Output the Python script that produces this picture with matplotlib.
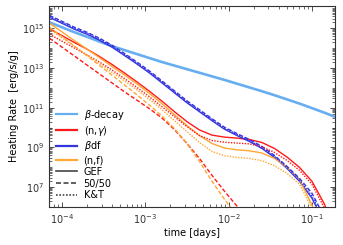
import matplotlib.pyplot as plt
import numpy as np
from matplotlib.lines import Line2D
from matplotlib.ticker import LogLocator, NullFormatter

# log10(time [days]) grid shared by all curves
log_t = [-4.15, -4.0, -3.85, -3.7, -3.55, -3.4, -3.25, -3.1, -2.95, -2.8, -2.65, -2.5,
         -2.35, -2.2, -2.05, -1.9, -1.75, -1.6, -1.45, -1.3, -1.15, -1.0, -0.85, -0.7]

# log10(heating rate [erg/s/g]) (nan = below the axis)
nan = np.nan
beta_decay = [15.30, 15.05, 14.80, 14.57, 14.33, 14.10, 13.90, 13.70, 13.50, 13.30, 13.12, 12.94,
              12.76, 12.58, 12.40, 12.21, 12.02, 11.83, 11.63, 11.42, 11.21, 10.98, 10.75, 10.50]

ng_gef = [14.98, 14.63, 14.28, 13.95, 13.58, 13.18, 12.75, 12.30, 11.83, 11.33, 10.80, 10.30,
          9.88, 9.62, 9.52, 9.47, 9.40, 9.25, 8.95, 8.52, 8.00, 7.30, 6.15, 4.60]
ng_5050 = [14.50, 14.05, 13.60, 13.15, 12.70, 12.25, 11.80, 11.38, 10.95, 10.48, 9.90, 9.20,
           8.45, 7.60, 6.80, 6.05, 5.30, 4.40, nan, nan, nan, nan, nan, nan]
ng_kt = [14.70, 14.35, 14.00, 13.66, 13.30, 12.90, 12.47, 12.02, 11.55, 11.05, 10.55, 10.05,
         9.60, 9.35, 9.26, 9.22, 9.18, 9.03, 8.75, 8.35, 7.85, 7.15, 5.95, 4.40]

bdf_gef = [15.55, 15.25, 14.95, 14.70, 14.40, 14.05, 13.63, 13.20, 12.75, 12.25, 11.75, 11.25,
           10.80, 10.35, 9.92, 9.60, 9.30, 8.95, 8.50, 7.95, 7.30, 6.45, 5.20, 4.00]
bdf_5050 = [15.65, 15.35, 15.05, 14.80, 14.50, 14.15, 13.73, 13.30, 12.85, 12.35, 11.85, 11.35,
            10.90, 10.45, 10.02, 9.70, 9.40, 9.05, 8.60, 8.05, 7.45, 6.70, 5.50, 4.30]
bdf_kt = [15.60, 15.30, 15.00, 14.75, 14.45, 14.10, 13.68, 13.25, 12.80, 12.30, 11.80, 11.30,
          10.85, 10.40, 9.97, 9.65, 9.35, 9.00, 8.55, 8.00, 7.37, 6.55, 5.35, 4.10]

nf_gef = [15.25, 14.82, 14.38, 13.95, 13.52, 13.08, 12.65, 12.20, 11.72, 11.20, 10.65, 10.10,
          9.60, 9.20, 8.97, 8.88, 8.83, 8.72, 8.45, 8.00, 7.40, 6.10, 4.60, nan]
nf_5050 = [15.05, 14.58, 14.10, 13.62, 13.13, 12.64, 12.15, 11.65, 11.13, 10.58, 9.95, 9.20,
           8.30, 7.30, 6.40, 5.55, 4.70, nan, nan, nan, nan, nan, nan, nan]
nf_kt = [14.95, 14.52, 14.08, 13.65, 13.22, 12.78, 12.35, 11.90, 11.42, 10.90, 10.35, 9.80,
         9.25, 8.80, 8.58, 8.50, 8.45, 8.33, 8.08, 7.70, 7.15, 5.95, 4.50, nan]

legend_labels = [r'$\beta$-decay', r'(n,$\gamma$)', r'$\beta$df', '(n,f)', 'GEF', '50/50', 'K&T']

c_beta = '#66aef0'
c_ng = '#ff1a1a'
c_bdf = '#3535e0'
c_nf = '#ffa733'
dashed = (0, (3, 1.5))
dotted = (0, (1, 1))

t = 10 ** np.array(log_t)

def h(vals):
    return 10 ** np.array(vals)

fig = plt.figure(figsize=(3.43, 2.45), dpi=100)
ax = fig.add_axes([0.143, 0.155, 0.834, 0.82])

ax.plot(t, h(beta_decay), color=c_beta, lw=1.9)
for vals, col in [(ng_gef, c_ng), (bdf_gef, c_bdf), (nf_gef, c_nf)]:
    ax.plot(t, h(vals), color=col, lw=1.0, ls='-')
for vals, col in [(ng_5050, c_ng), (bdf_5050, c_bdf), (nf_5050, c_nf)]:
    ax.plot(t, h(vals), color=col, lw=1.0, ls=dashed)
for vals, col in [(ng_kt, c_ng), (bdf_kt, c_bdf), (nf_kt, c_nf)]:
    ax.plot(t, h(vals), color=col, lw=1.0, ls=dotted)

ax.set_xscale('log')
ax.set_yscale('log')
ax.set_xlim(7e-5, 0.19)
ax.set_ylim(1e6, 1.3e16)
ax.set_yticks([1e7, 1e9, 1e11, 1e13, 1e15])
ax.yaxis.set_minor_locator(LogLocator(base=10, subs=np.arange(1, 10), numticks=30))
ax.yaxis.set_minor_formatter(NullFormatter())

ax.set_xlabel('time [days]', fontsize=7, labelpad=2)
ax.set_ylabel('Heating Rate  [erg/s/g]', fontsize=7, labelpad=2)
ax.tick_params(which='both', direction='in', top=True, right=True, labelsize=7, colors='#333333')
ax.tick_params(which='major', length=3.5, width=0.6)
ax.tick_params(which='minor', length=2, width=0.5)
for s in ax.spines.values():
    s.set_color('#333333')
    s.set_linewidth(0.8)

# legend: colours for the channels, line styles for the yield models
handles = [Line2D([], [], color=c_beta, lw=1.6),
           Line2D([], [], color=c_ng, lw=1.6),
           Line2D([], [], color=c_bdf, lw=1.6),
           Line2D([], [], color=c_nf, lw=1.6),
           Line2D([], [], color='#444444', lw=1.2, ls='-'),
           Line2D([], [], color='#444444', lw=1.2, ls=dashed),
           Line2D([], [], color='#444444', lw=1.2, ls=dotted)]
ax.legend(handles, legend_labels, loc='lower left', bbox_to_anchor=(-0.005, -0.01), frameon=False,
          fontsize=7, handlelength=2.1, handletextpad=0.7, labelspacing=0.18, borderpad=0.4)

fig.savefig('out.png', dpi=100)
